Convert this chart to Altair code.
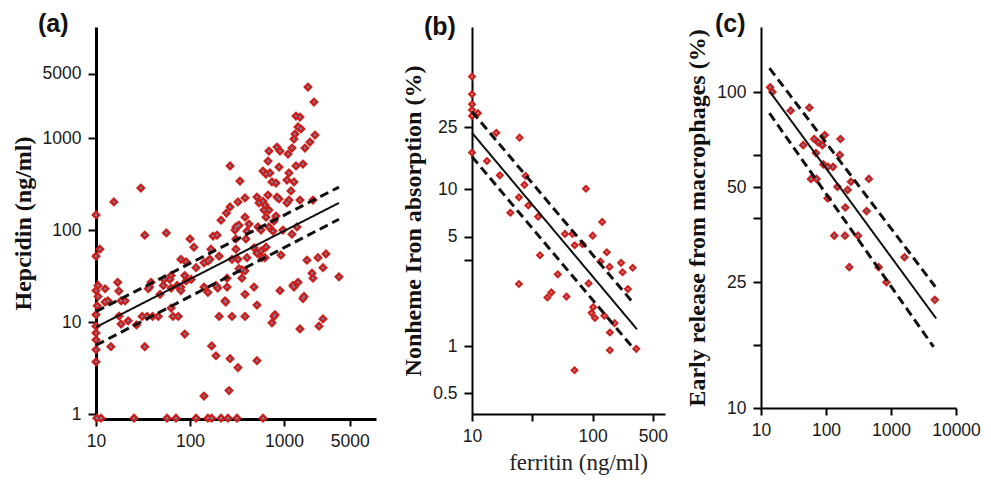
import altair as alt
import pandas as pd

# ---------------- Panel (a): hepcidin vs ferritin ----------------
ferritin_a = [267, 340, 30, 15.5, 324, 267, 244, 214, 10, 324, 301, 33, 56, 100, 176, 194, 308, 110, 11, 10,
              167, 308, 80, 91, 204, 280, 324, 141, 155, 163, 116, 88, 103, 63, 53, 61, 248, 332, 38.5, 17,
              12.5, 189, 248, 52, 73, 80, 141, 37, 17.5, 10.5, 10.5, 10.3, 12.5, 13.4, 18.5, 20.4, 36, 48, 63, 80,
              91, 63, 155, 197, 236, 17.6, 18.5, 22, 27, 31, 35, 40, 46, 66, 75, 204, 280, 10, 10, 10,
              14.4, 33, 88, 170, 189, 267, 324, 10, 260, 141,
              11.3, 25.4, 57, 71, 116, 155, 170, 214, 254, 316, 598, 10.2,
              1800, 2086, 1342, 1480, 1410, 1517, 2138, 1309, 1277, 1890, 1672, 692, 843, 907, 1216, 1104, 676, 885,
              1342, 1592, 598, 644, 709, 1130, 745, 822, 1076, 1277, 1186, 676, 516, 385, 843, 1130, 1480, 2035,
              542, 598, 628, 692, 613, 885, 1076, 385, 424, 644, 822, 783, 308, 332, 404, 394, 529, 569, 692, 764,
              975, 1375, 1216, 480, 516, 644, 569, 628, 583, 404, 929, 357, 385, 357, 240, 480, 1756, 2300, 2798,
              2600, 1985, 2035, 3845, 1410, 1277, 1246, 907, 1632, 1592, 385, 516, 385, 802, 783, 745, 2600, 2357,
              1480, 516, 10, 10, 10]
hepcidin_a = [497, 341, 286, 202, 202, 178, 153, 128, 146, 110, 100, 88, 93, 80, 86, 88, 80, 65, 62, 52,
              62, 62, 48, 45, 52, 48, 48, 44, 46, 48, 39, 32, 29, 32, 29, 29, 30, 38, 27, 27,
              23, 25, 24, 25, 25, 24, 24, 24, 21.7, 25, 19, 15, 16.5, 17, 17, 17, 23, 20, 23.4, 22,
              28, 14.2, 21, 23.4, 17, 11.6, 9.5, 10.3, 9.3, 11.5, 11.5, 11.5, 11.5, 11.5, 11.5, 11.5, 11.5, 9, 7.6, 6.4,
              5.4, 5.4, 7.4, 5.5, 4.3, 4.0, 3.2, 3.7, 1.8, 1.57,
              0.9, 0.9, 0.9, 0.9, 0.9, 0.9, 0.9, 0.9, 0.9, 0.9, 0.9, 0.9,
              3584, 2460, 1734, 1691, 1318, 1254, 1078, 1104, 975, 905, 778, 722, 798, 722, 778, 670, 562, 484,
              497, 521, 438, 406, 417, 417, 333, 324, 349, 333, 266, 240, 228, 223, 228, 212, 212, 212,
              197, 205, 187, 165, 165, 218, 197, 138, 116, 138, 142, 125, 108, 113, 97, 80, 108, 100, 108, 97,
              100, 108, 90, 64, 56, 65, 59, 50, 50, 50, 53.5, 37, 36, 30, 16.5, 24, 47, 50, 55,
              39, 34, 30, 31, 27, 24, 25, 22, 19, 18, 20, 15.3, 11.5, 12, 11.5, 9.8, 10.8, 9,
              8.4, 3.8, 22, 12, 5]
fit_a_x = [10, 3845]
fit_a_mid = [8.8, 197]
fit_a_hi = [13, 293]
fit_a_lo = [5.6, 131]

# ---------------- Panel (b): nonheme iron absorption ----------------
ferritin_b = [10, 10, 10, 10, 10, 11.2, 10, 15.9, 24.8, 13.3, 17, 27.8, 27.2, 24.5, 29.3, 20.8, 35.3, 88, 120,
              59, 68, 100, 71, 82.5, 131, 36.6, 116, 138, 172, 177, 215, 51.4, 24.5, 196, 92.6, 45.5, 42.2,
              60.7, 101, 98, 104.5, 125, 152, 139, 139, 230, 70.8]
absorption_b = [52.6, 40.6, 35, 32.2, 29.5, 30.7, 17.2, 23, 21.4, 15.2, 12.3, 12.2, 10.7, 8.9, 7.9, 7.1, 6.7, 10.1,
                6.2, 5.2, 5.2, 5.07, 4.4, 4.47, 3.97, 3.8, 3.46, 3.2, 3.4, 2.96, 3.16, 2.87, 2.49, 2.31, 2.51,
                2.2, 2.04, 2.07, 1.77, 1.63, 1.51, 1.56, 1.4, 1.22, 0.94, 0.96, 0.70]
fit_b_x = [10, 233]
fit_b_mid = [23, 1.28]
fit_b_hi_x = [10, 215]
fit_b_hi = [31.4, 1.9]
fit_b_lo_x = [10, 222]
fit_b_lo = [16.2, 0.95]

# ---------------- Panel (c): early release from macrophages ----------------
ferritin_c = [13.8, 15, 28.6, 55.5, 44.6, 65.9, 75.7, 88, 95.5, 167, 70, 163, 91.4, 107, 128, 58.7, 71.6, 242,
              456, 150, 215, 106, 198, 421, 134, 196, 311, 1611, 228, 646, 851, 4720]
release_c = [103.5, 100, 87.3, 89.2, 67.9, 71, 69.3, 67.9, 73.1, 71, 64.1, 63.2, 59, 58, 58, 53.1, 53.1, 52,
             53.1, 50.1, 49, 46.1, 43.1, 42, 35.1, 35.1, 35.1, 30, 27.9, 27.9, 25, 22]
fit_c_x = [13.8, 4955]
fit_c_mid = [100, 19.2]
fit_c_hi_x = [13.5, 4800]
fit_c_hi = [119, 24.2]
fit_c_lo_x = [13.5, 4525]
fit_c_lo = [85.7, 15.6]

RED = "#c8211e"
LABEL_SIZE = 17.5


def lab_expr(vals, labs):
    parts = "".join(f"abs(datum.value - {v}) < {v * 0.002} ? '{l}' : " for v, l in zip(vals, labs))
    return parts + "''"


def panel(px, py, fits, xdom, ydom, w, h, xt, xl, yt, yl, ytitle, xtitle, label, lx, ly,
          dot, msize, dwidth, title_x=None):
    pts = pd.DataFrame({"x": px, "y": py})
    xaxis_kw = dict(values=xt, labelExpr=lab_expr(xt, xl), tickSize=7, tickWidth=2, tickColor="black",
                    domainColor="black", domainWidth=dwidth, grid=False, labelFont="Liberation Sans",
                    labelFontSize=LABEL_SIZE, labelColor="#1a1a1a", labelPadding=6, title=xtitle,
                    titleFont="Liberation Serif", titleFontSize=23, titleFontWeight="normal",
                    titleColor="#222", titlePadding=7, labelFlush=False, labelOverlap=False)
    if title_x is not None:
        xaxis_kw["titleX"] = title_x
    xenc = alt.X("x:Q", scale=alt.Scale(type="log", domain=xdom, nice=False, zero=False),
                 axis=alt.Axis(**xaxis_kw))
    yenc = alt.Y("y:Q", scale=alt.Scale(type="log", domain=ydom, nice=False, zero=False),
                 axis=alt.Axis(values=yt, labelExpr=lab_expr(yt, yl), tickSize=8, tickWidth=2,
                               tickColor="black", domainColor="black", domainWidth=dwidth, grid=False,
                               labelFont="Liberation Sans", labelFontSize=LABEL_SIZE, labelColor="#1a1a1a",
                               labelPadding=7, title=ytitle, titleFont="Liberation Serif",
                               titleFontSize=24, titleFontWeight="bold", titleColor="#111",
                               titlePadding=7, labelFlush=False, labelOverlap=False))
    base = alt.Chart(pts)
    layers = [
        base.mark_point(shape="diamond", filled=True, size=msize, color=RED, opacity=1, clip=False)
        .encode(x=xenc, y=yenc),
        base.mark_point(shape="circle", filled=True, size=5, color=dot, opacity=1, clip=False)
        .encode(x="x:Q", y="y:Q"),
    ]
    for fx, fy, dashed in fits:
        fdf = pd.DataFrame({"x": fx, "y": fy})
        layers.append(
            alt.Chart(fdf).mark_line(color="#111", strokeWidth=3 if dashed else 2,
                                     strokeDash=[9, 5] if dashed else [1, 0])
            .encode(x="x:Q", y="y:Q")
        )
    lab = pd.DataFrame({"t": [label]})
    layers.append(
        alt.Chart(lab).mark_text(font="Liberation Sans", fontSize=25, fontWeight="bold", color="#111",
                                 align="left", baseline="alphabetic")
        .encode(x=alt.value(lx), y=alt.value(ly), text="t:N")
    )
    return alt.layer(*layers).properties(width=w, height=h)


pa = panel(ferritin_a, hepcidin_a,
           [(fit_a_x, fit_a_mid, False), (fit_a_x, fit_a_hi, True), (fit_a_x, fit_a_lo, True)],
           [10, 9530], [0.883, 16100], 280, 392,
           [10, 100, 1000, 5000], ["10", "100", "1000", "5000"],
           [1, 10, 100, 1000, 5000], ["1", "10", "100", "1000", "5000"],
           "Hepcidin (ng/ml)", "", "(a)", -58, 5, "#6d8db5", 95, 3)

pb = panel(ferritin_b, absorption_b,
           [(fit_b_x, fit_b_mid, False), (fit_b_hi_x, fit_b_hi, True), (fit_b_lo_x, fit_b_lo, True)],
           [10, 398], [0.368, 109], 193, 387,
           [10, 31.6, 100, 316], ["10", "", "100", "500"],
           [0.5, 1, 3.54, 5, 10, 25], ["0.5", "1", "", "5", "10", "25"],
           "Nonheme Iron absorption (%)", "ferritin (ng/ml)", "(b)", -48, 8, "#e07a7a", 75, 2,
           title_x=106)

pc = panel(ferritin_c, release_c,
           [(fit_c_x, fit_c_mid, False), (fit_c_hi_x, fit_c_hi, True), (fit_c_lo_x, fit_c_lo, True)],
           [10, 10000], [10, 160.6], 195, 381,
           [10, 100, 1000, 10000], ["10", "100", "1000", "10000"],
           [10, 15.85, 25, 39.8, 50, 63.1, 100], ["10", "", "25", "", "50", "", "100"],
           "Early release from macrophages (%)", "", "(c)", -46, 5, "#6d8db5", 85, 2)

chart = alt.hconcat(pa, pb, pc, spacing=96, bounds="flush").configure_view(stroke=None).properties(
    background="white", padding={"left": 3, "top": 4, "right": 0, "bottom": 0})

chart.save("out.html", embed_options={"renderer": "svg", "actions": False})
